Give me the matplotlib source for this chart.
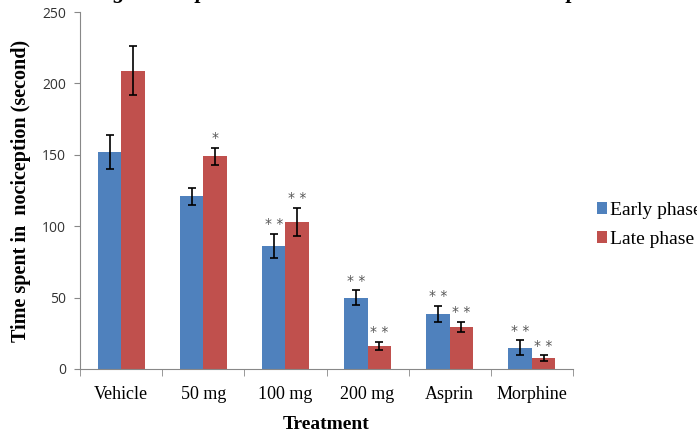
import numpy as np
import matplotlib.pyplot as plt

treatments = ['Vehicle', '50 mg', '100 mg', '200 mg', 'Asprin', 'Morphine']
early = [152, 121, 86, 50, 38.5, 15]
early_err = [12, 6, 8.5, 5, 5.5, 5]
late = [209, 149, 103, 16, 29.5, 7.5]
late_err = [17, 6, 10, 3, 3.5, 2]
early_sig = ['', '', '**', '**', '**', '**']
late_sig = ['', '*', '**', '**', '**', '**']

serif = 'Liberation Serif'
blue = '#4F81BD'
red = '#C0504D'

fig = plt.figure(figsize=(6.97, 4.32), dpi=100)
ax = fig.add_axes([0.115, 0.146, 0.707, 0.826])

x = np.arange(len(treatments))
w = 0.285
ax.bar(x - w/2, early, w, color=blue, yerr=early_err, capsize=3,
       error_kw=dict(elinewidth=1.2, capthick=1.2, ecolor='black'), label='Early phase')
ax.bar(x + w/2, late, w, color=red, yerr=late_err, capsize=3,
       error_kw=dict(elinewidth=1.2, capthick=1.2, ecolor='black'), label='Late phase')

# significance marks
for i in range(len(treatments)):
    if early_sig[i]:
        ax.text(x[i] - w/2, early[i] + early_err[i] + 2, ' '.join(early_sig[i]),
                ha='center', va='bottom', fontsize=10, color='#555555')
    if late_sig[i]:
        ax.text(x[i] + w/2, late[i] + late_err[i] + 2, ' '.join(late_sig[i]),
                ha='center', va='bottom', fontsize=10, color='#555555')

ax.set_xlim(-0.5, len(treatments) - 0.5)
ax.set_ylim(0, 250)
ax.set_yticks([0, 50, 100, 150, 200, 250])
ax.set_xticks(x)
ax.set_xticklabels(treatments, fontfamily=serif, fontsize=13)
ax.set_xticks(np.arange(len(treatments) + 1) - 0.5, minor=True)
ax.tick_params(axis='x', which='major', length=0, pad=12)
ax.tick_params(axis='x', which='minor', length=5, color='#888888')
ax.tick_params(axis='y', length=4, color='#888888', labelsize=10, labelcolor='#333333', pad=6)
for lab in ax.get_yticklabels():
    lab.set_fontfamily('Open Sans')

ax.spines['right'].set_color('none')
ax.spines['top'].set_color('none')
ax.spines['left'].set_color('#888888')
ax.spines['bottom'].set_color('#888888')

ax.set_xlabel('Treatment', fontfamily=serif, fontweight='bold', fontsize=14, labelpad=10)
ax.set_ylabel('Time spent in  nociception (second)', fontfamily=serif,
              fontweight='bold', fontsize=14.5, labelpad=8)

fig.legend(loc='upper left', bbox_to_anchor=(0.856, 0.532), frameon=False,
           prop=dict(family=serif, size=14), handlelength=0.55, handleheight=0.55,
           handletextpad=0.15, labelspacing=0.62, borderaxespad=0, borderpad=0)

# title cut off at the top edge of the original picture: only descenders show
for px, ch in [(113, 'g'), (196, 'p'), (567, 'p')]:
    fig.text(px / 697, 1 + 1.5 / 432, ch, fontfamily=serif, fontweight='bold',
             fontstyle='italic', fontsize=16, va='baseline', ha='left')

fig.savefig('out.png', dpi=100)
